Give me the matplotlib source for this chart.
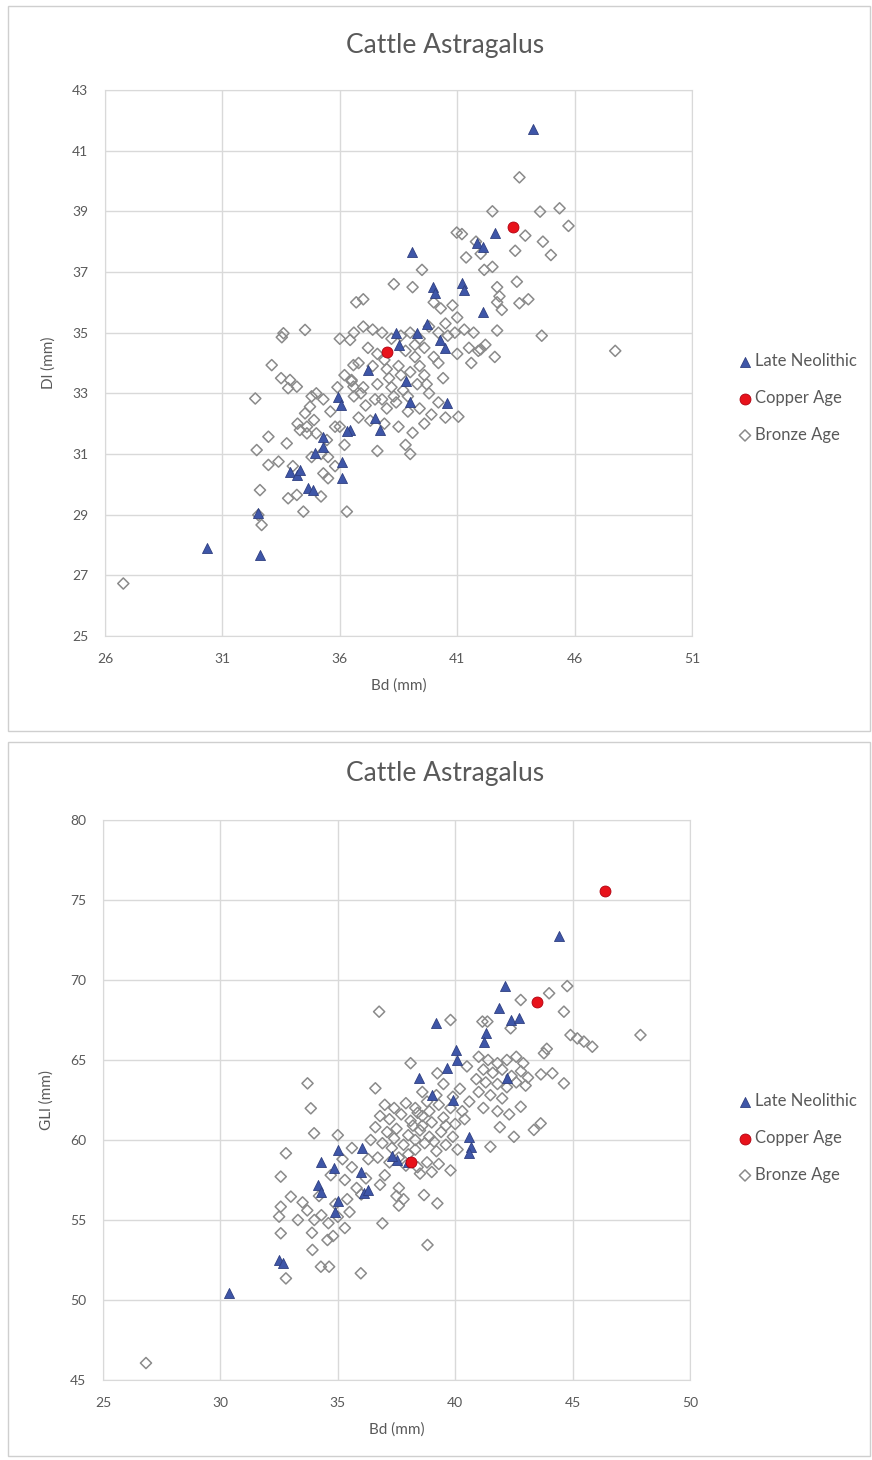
import matplotlib
matplotlib.use("Agg")
import matplotlib.pyplot as plt
from matplotlib.patches import Rectangle

plt.rcParams["font.family"] = ["Lato", "DejaVu Sans"]

TITLE = "Cattle Astragalus"
SERIES = ["Late Neolithic", "Copper Age", "Bronze Age"]

# ---- top chart: Bd vs Dl ----
ln_bd_1 = [44.24, 39.06, 30.33, 32.6, 42.6, 41.84, 42.12, 39.96, 40.06, 41.2, 41.27, 42.12,
           38.4, 38.5, 40.27, 40.5, 37.22, 40.55, 35.94, 36.05, 36.44, 36.3, 35.3, 35.3, 34.95,
           36.08, 36.08, 33.88, 34.17, 34.31, 34.66, 34.87, 39.0, 38.8, 37.5, 39.7, 39.3, 32.5, 37.7]
ln_dl_1 = [41.71, 37.67, 27.89, 27.67, 38.27, 37.95, 37.82, 36.52, 36.3, 36.63, 36.4, 35.69,
           35.0, 34.6, 34.76, 34.5, 33.77, 32.67, 32.89, 32.6, 31.79, 31.75, 31.57, 31.24, 31.02,
           30.75, 30.2, 30.42, 30.3, 30.47, 29.87, 29.81, 32.7, 33.4, 32.2, 35.3, 35.0, 29.05, 31.8]

cu_bd_1 = [43.38, 38.0]
cu_dl_1 = [38.5, 34.37]

ba_bd_1 = [43.65, 42.5, 44.53, 45.36, 45.74, 40.98, 41.2, 43.9, 43.47, 44.65, 44.99, 41.38,
           42.15, 42.5, 43.54, 42.7, 42.8, 42.7, 42.9, 43.65, 44.03, 38.3, 39.1, 39.5, 37.0,
           36.7, 44.6, 42.7, 41.8, 42.0,
           40.0, 40.3, 40.8, 41.0, 40.5, 41.3, 41.7, 40.2, 39.8, 40.9, 41.5, 41.9, 42.2, 42.6,
           41.0, 40.6, 40.0, 39.6, 40.2, 39.4, 41.6, 42.0,
           36.6, 37.0, 37.4, 37.8, 38.2, 38.6, 39.0, 39.4, 37.2, 37.6, 38.8, 39.2, 36.8, 37.4,
           38.0, 38.5, 39.0, 39.6, 36.5, 37.0, 37.6, 38.2, 38.7, 39.3, 39.8, 36.6, 37.1, 37.5,
           38.0, 38.4, 38.9, 39.4, 39.9, 36.8, 37.3, 37.9, 38.5, 39.1, 39.6, 38.8, 39.0, 37.6,
           40.2, 40.5, 41.05, 36.2, 35.9, 36.0, 36.44, 36.58, 36.5, 36.58,
           33.6, 34.52, 33.53, 33.1, 33.88, 34.17, 33.8, 32.4, 34.8, 34.73, 34.52, 34.9, 34.6,
           35.0, 32.96, 33.74, 32.46, 35.45, 34.3, 34.6, 32.96, 33.39, 32.6, 33.8, 34.17, 35.2,
           35.3, 32.67, 32.53, 34.45, 36.3, 35.5, 35.8, 35.2, 34.0, 35.6, 35.3, 35.8, 34.2,
           33.5, 35.0, 35.5, 34.8, 36.2, 36.0,
           38.1, 38.6, 39.2, 37.8, 38.3, 39.7, 40.4, 37.9, 38.9, 36.9,
           26.78, 47.73]
ba_dl_1 = [40.12, 39.0, 38.99, 39.1, 38.52, 38.3, 38.25, 38.2, 37.7, 38.0, 37.56, 37.48,
           37.07, 37.17, 36.68, 36.5, 36.2, 36.0, 35.75, 35.97, 36.1, 36.6, 36.5, 37.07, 36.1,
           36.0, 34.9, 35.07, 38.0, 37.6,
           36.0, 35.8, 35.9, 35.5, 35.3, 35.1, 35.0, 35.0, 35.2, 35.0, 34.5, 34.4, 34.6, 34.2,
           34.3, 34.9, 34.2, 34.5, 34.0, 33.9, 34.0, 34.45,
           35.0, 35.2, 35.1, 35.0, 34.8, 34.9, 35.0, 34.8, 34.5, 34.3, 34.4, 34.2, 34.0, 33.9,
           33.8, 33.9, 33.7, 33.6, 33.4, 33.2, 33.3, 33.2, 33.1, 33.3, 33.0, 32.9, 32.6, 32.8,
           32.5, 32.7, 32.4, 32.5, 32.3, 32.2, 32.1, 32.0, 31.9, 31.7, 32.0, 31.3, 31.0, 31.1,
           32.7, 32.2, 32.23, 33.6, 33.2, 34.8, 34.76, 33.93, 33.44, 33.22,
           34.98, 35.09, 34.85, 33.93, 33.44, 33.22, 33.17, 32.83, 32.9, 32.56, 32.34, 32.12, 31.9,
           31.68, 31.57, 31.35, 31.13, 31.46, 31.79, 31.68, 30.64, 30.75, 29.81, 29.54, 29.65, 29.6,
           30.36, 28.66, 28.99, 29.1, 29.1, 30.9, 30.6, 31.0, 30.6, 32.4, 32.8, 31.9, 32.0,
           33.5, 33.0, 30.2, 30.9, 31.3, 31.9,
           33.5, 33.6, 34.6, 32.8, 32.9, 33.3, 33.5, 34.1, 32.9, 33.0,
           26.73, 34.4]

# ---- bottom chart: Bd vs GLl ----
ln_bd_2 = [44.4, 42.1, 41.86, 39.17, 42.36, 42.72, 41.3, 41.23, 40.02, 40.09, 39.67, 38.46,
           39.0, 39.9, 42.2, 40.59, 40.66, 40.59, 34.99, 36.05, 34.28, 37.54, 35.98, 34.84,
           34.14, 34.28, 36.12, 36.3, 35.0, 34.9, 32.5, 32.65, 30.37, 37.3, 38.0]
ln_gl_2 = [72.75, 69.62, 68.23, 67.3, 67.5, 67.6, 66.67, 66.15, 65.63, 65.0, 64.48, 63.86,
           62.8, 62.5, 63.9, 60.2, 59.58, 59.17, 59.38, 59.48, 58.65, 58.75, 58.02, 58.23,
           57.19, 56.77, 56.67, 56.9, 56.2, 55.5, 52.5, 52.29, 50.42, 59.0, 58.6]

cu_bd_2 = [46.36, 43.5, 38.1]
cu_gl_2 = [75.56, 68.65, 58.65]

ba_bd_2 = [44.0, 44.77, 42.79, 44.63, 36.76, 39.8, 41.16, 41.37, 42.36, 44.91, 45.2, 45.48,
           45.84, 47.89, 43.78, 43.9, 38.1, 39.24, 44.63, 44.14, 43.65, 33.71, 33.85, 36.6,
           42.79, 43.35, 43.64, 42.5, 41.5, 33.99,
           41.0, 41.4, 41.8, 42.2, 42.6, 42.9, 41.2, 41.6, 42.0, 42.4, 42.8, 43.1, 40.9, 41.3,
           41.8, 42.2, 42.6, 43.0, 41.0, 41.5, 42.0, 40.6, 41.2, 41.8, 42.3, 40.5, 40.2, 39.9, 41.9,
           37.0, 37.4, 37.9, 38.3, 38.8, 39.3, 39.8, 40.3, 36.8, 37.2, 37.7, 38.1, 38.6, 39.0,
           39.5, 40.0, 40.4, 36.6, 37.1, 37.5, 38.0, 38.5, 38.9, 39.4, 39.9, 36.9, 37.3, 37.8,
           38.3, 38.7, 39.2, 39.6, 40.1, 36.7, 37.2, 37.6, 38.4, 38.8, 39.3, 39.8, 38.5, 39.0,
           37.0, 36.8, 37.6, 37.5, 37.6, 37.8, 38.67, 39.24, 38.82, 36.9, 39.2, 38.6, 39.5,
           32.79, 32.57, 33.0, 32.57, 32.5, 32.57, 33.7, 34.0, 34.3, 34.6, 35.0, 35.3, 33.9,
           34.8, 35.5, 34.56, 33.92, 34.28, 34.63, 35.98, 32.79, 33.3, 33.5, 34.2, 34.9, 35.4,
           35.8, 35.3, 34.7, 35.6, 36.2, 36.0, 35.0, 35.6, 36.4, 35.2, 36.3,
           38.2, 38.9, 39.6, 37.4, 38.0, 38.4, 39.1, 37.9, 38.3, 38.6,
           26.83]
ba_gl_2 = [69.17, 69.62, 68.75, 68.02, 68.02, 67.5, 67.4, 67.4, 66.98, 66.56, 66.35, 66.15,
           65.83, 66.56, 65.42, 65.7, 64.8, 64.17, 63.54, 64.17, 64.1, 63.54, 61.98, 63.23,
           62.08, 60.63, 61.04, 60.2, 59.58, 60.42,
           65.2, 65.0, 64.8, 65.0, 65.2, 64.8, 64.4, 64.2, 64.4, 64.0, 64.3, 63.9, 63.8, 63.6,
           63.5, 63.3, 63.6, 63.4, 63.0, 62.8, 62.6, 62.4, 62.0, 61.8, 61.6, 64.6, 63.2, 62.7, 60.8,
           62.2, 62.0, 62.3, 62.0, 62.4, 62.2, 62.0, 61.8, 61.5, 61.3, 61.6, 61.2, 61.5, 61.1,
           61.4, 61.0, 61.3, 60.8, 60.5, 60.7, 60.3, 60.6, 60.2, 60.5, 60.2, 59.8, 59.5, 59.7,
           59.4, 59.8, 59.3, 59.7, 59.4, 58.9, 58.6, 58.9, 58.3, 58.6, 58.5, 58.1, 57.9, 58.0,
           57.8, 57.2, 57.0, 56.5, 55.9, 56.3, 56.56, 56.04, 53.44, 54.79, 62.8, 63.0, 63.5,
           59.17, 57.71, 56.46, 55.83, 55.21, 54.17, 55.6, 55.0, 55.3, 54.8, 55.2, 54.5, 54.2,
           54.0, 55.5, 53.75, 53.13, 52.08, 52.08, 51.67, 51.35, 55.0, 56.1, 56.5, 56.0, 56.3,
           57.0, 57.5, 57.8, 58.3, 57.6, 56.6, 60.3, 59.5, 60.0, 58.8, 58.8,
           60.9, 61.8, 60.9, 60.1, 59.1, 61.7, 59.9, 58.4, 60.0, 60.9,
           46.06]

TEXT_GREY = "#595959"
GRID_GREY = "#D9D9D9"
W, H = 872, 1460


def draw_panel(fig, rect, xs, ys, xlim, ylim, xticks, yticks, ylabel, frame, title_y, leg_y):
    # light frame around the chart, like an Excel chart object
    fx0, fy0, fx1, fy1 = frame
    fig.patches.append(Rectangle((fx0 / W, 1 - fy1 / H), (fx1 - fx0) / W, (fy1 - fy0) / H,
                                 transform=fig.transFigure, fill=False,
                                 edgecolor="#CFCFCF", linewidth=1.0))
    ax = fig.add_axes(rect)
    (ln_x, ln_y), (cu_x, cu_y), (ba_x, ba_y) = list(zip(xs, ys))
    ax.scatter(ln_x, ln_y, marker="^", s=52, color="#3E56A8", edgecolors="#2F3F80",
               linewidths=0.6, label=SERIES[0], zorder=3)
    ax.scatter(cu_x, cu_y, marker="o", s=62, color="#E8121B", edgecolors="#B00010",
               linewidths=0.6, label=SERIES[1], zorder=4)
    ax.scatter(ba_x, ba_y, marker="D", s=32, facecolors="none", edgecolors="#8A8A8A",
               linewidths=1.1, label=SERIES[2], zorder=2)
    ax.set_xlim(*xlim)
    ax.set_ylim(*ylim)
    ax.set_xticks(xticks)
    ax.set_yticks(yticks)
    ax.grid(True, color=GRID_GREY, linewidth=1.0)
    ax.set_axisbelow(True)
    for sp in ax.spines.values():
        sp.set_color(GRID_GREY)
    ax.tick_params(length=0, colors=TEXT_GREY, labelsize=10, pad=12)
    ax.set_xlabel("Bd (mm)", color=TEXT_GREY, fontsize=11, labelpad=10)
    ax.set_ylabel(ylabel, color=TEXT_GREY, fontsize=11, labelpad=12)
    # title sits centred over the whole chart frame
    fig.text(445 / W, 1 - title_y / H, TITLE, color=TEXT_GREY, fontsize=19,
             ha="center", va="center")
    leg = ax.legend(loc="center left", bbox_to_anchor=(730 / W, 1 - leg_y / H),
                    bbox_transform=fig.transFigure, frameon=False, fontsize=12,
                    labelspacing=1.25, handletextpad=0.1, handlelength=1.0,
                    borderaxespad=0)
    for t in leg.get_texts():
        t.set_color(TEXT_GREY)
    return ax


def main() -> None:
    fig = plt.figure(figsize=(W / 100, H / 100), dpi=100)

    draw_panel(fig, [105 / W, 1 - 636 / H, 587 / W, 546 / H],
               [ln_bd_1, cu_bd_1, ba_bd_1], [ln_dl_1, cu_dl_1, ba_dl_1],
               (26, 51), (25, 43), list(range(26, 52, 5)), list(range(25, 44, 2)),
               "Dl (mm)", (8, 6, 870, 731), 45, 398)

    draw_panel(fig, [103 / W, 1 - 1380 / H, 587 / W, 560 / H],
               [ln_bd_2, cu_bd_2, ba_bd_2], [ln_gl_2, cu_gl_2, ba_gl_2],
               (25, 50), (45, 80), list(range(25, 51, 5)), list(range(45, 81, 5)),
               "GLl (mm)", (8, 742, 870, 1456), 773, 1138)

    fig.savefig("out.png", dpi=100)
    plt.close(fig)


if __name__ == "__main__":
    main()
